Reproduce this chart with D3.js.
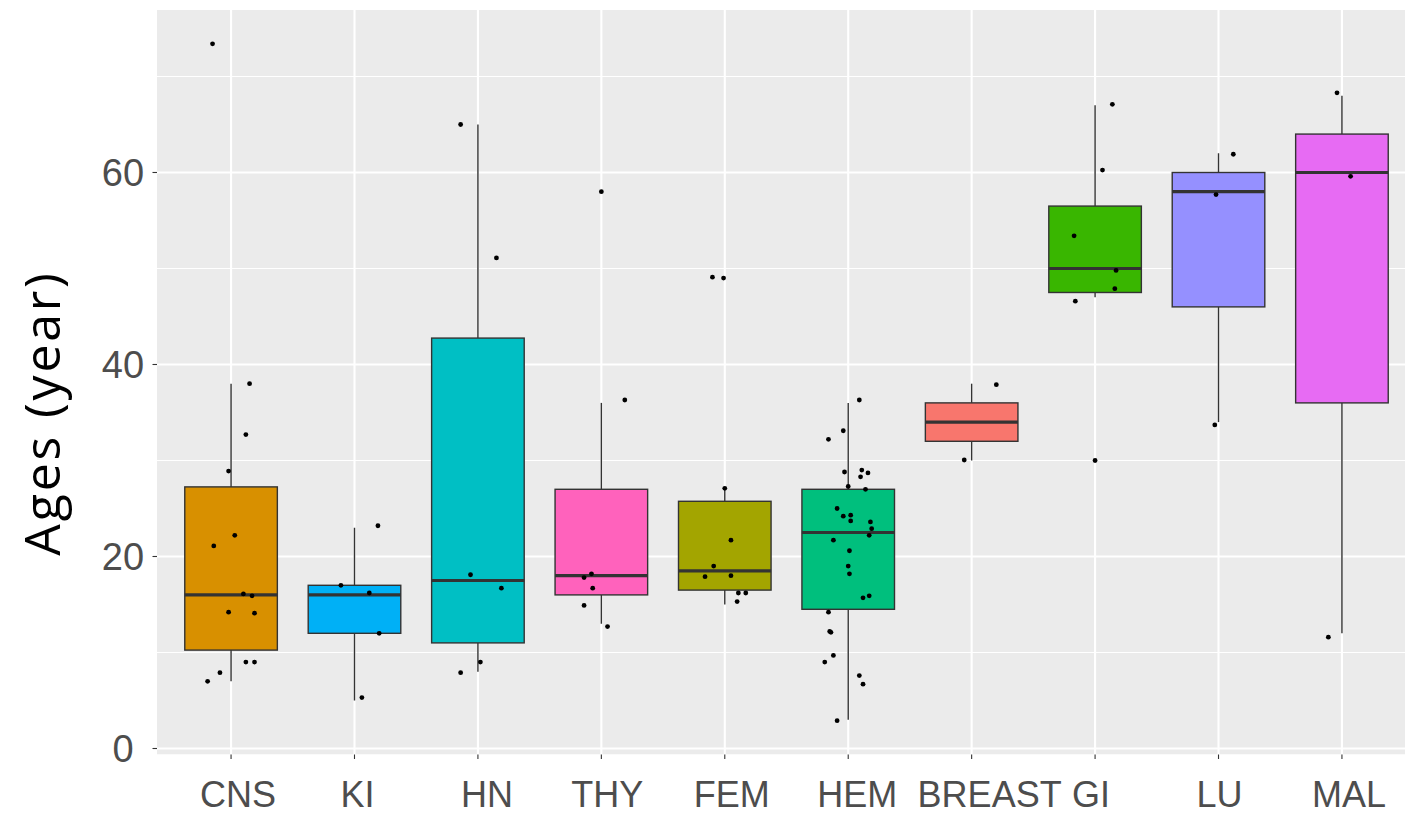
<!DOCTYPE html>
<html>
<head>
<meta charset="utf-8">
<script src="https://cdn.jsdelivr.net/npm/d3@7"></script>
<style>
  html, body { margin: 0; padding: 0; background: #ffffff; }
  svg { display: block; }
</style>
</head>
<body>
<svg id="chart" width="1405" height="815"></svg>
<script>
// Tumour groups, in plotting order
const categories = ["CNS", "KI", "HN", "THY", "FEM", "HEM", "BREAST", "GI", "LU", "MAL"];
const fills = ["#D89000", "#00B0F6", "#00BFC4", "#FF62BC", "#A3A500",
               "#00BF7D", "#F8766D", "#39B600", "#9590FF", "#E76BF3"];

// Patient ages (years) per group
const ages = [
  [73, 38, 33, 29, 22, 21, 16, 16, 14, 14, 9, 9, 8, 7],
  [23, 17, 16, 12, 5],
  [65, 51, 18, 17, 9, 8],
  [58, 36, 18, 18, 17, 15, 13],
  [49, 49, 27, 22, 19, 18, 18, 16, 16, 15],
  [36, 33, 32, 29, 29, 29, 28, 27, 27, 25, 24, 24, 24, 24, 23, 22, 22, 21, 19, 18, 16, 16, 14, 12, 12, 10, 9, 8, 7, 3],
  [38, 30],
  [67, 60, 53, 50, 48, 47, 30],
  [62, 58, 34],
  [68, 60, 12]
];

// Jitter applied to each point: horizontal (in category widths) and vertical (years)
const jitterX = [
  [-0.15, 0.15, 0.12, -0.02, 0.03, -0.14, 0.10, 0.17, -0.02, 0.19, 0.12, 0.19, -0.09, -0.19],
  [0.19, -0.11, 0.12, 0.20, 0.06],
  [-0.14, 0.15, -0.06, 0.19, 0.02, -0.14],
  [0.0, 0.19, -0.08, -0.14, -0.07, -0.14, 0.05],
  [-0.10, -0.01, 0.0, 0.05, -0.09, -0.16, 0.05, 0.11, 0.17, 0.10],
  [0.09, -0.04, -0.16, -0.03, 0.11, 0.16, 0.10, 0.0, 0.14, -0.09, -0.04, 0.02, 0.02, 0.18, 0.19, 0.17, -0.12, 0.01, 0.0, 0.01, 0.12, 0.17, -0.16, -0.15, -0.14, -0.12, -0.19, 0.09, 0.12, -0.09],
  [0.20, -0.06],
  [0.14, 0.06, -0.17, 0.17, 0.16, -0.16, 0.0],
  [0.12, -0.02, -0.03],
  [-0.04, 0.07, -0.11]
];
const jitterY = [
  [0.4, 0, -0.3, -0.1, 0.2, 0.1, 0.1, -0.1, 0.2, 0.1, 0, 0, -0.1, 0],
  [0.2, 0, 0.2, 0, 0.3],
  [0, 0.1, 0.1, -0.3, 0, -0.1],
  [0, 0.3, 0.2, -0.2, -0.3, -0.1, -0.3],
  [0.1, 0, 0.1, -0.3, 0, -0.1, 0, 0.2, 0.2, 0.3],
  [0.3, 0.1, 0.2, -0.2, 0, -0.3, 0.3, 0.3, 0, 0, 0.2, 0.3, -0.3, -0.4, -0.1, 0.2, -0.3, -0.4, 0, 0.2, -0.3, -0.1, 0.2, 0.2, 0.1, -0.3, 0, -0.4, -0.3, -0.1],
  [-0.1, 0.05],
  [0.1, 0.25, 0.4, -0.2, -0.1, -0.4, 0],
  [-0.1, -0.3, -0.3],
  [0.3, -0.4, -0.4]
];

const yTicks = [0, 20, 40, 60];
const yMinor = [10, 30, 50, 70];
const yTitle = "Ages (year)";

// horizontal nudges (px) of the category labels relative to their ticks
const labelNudge = [7, 3, 9, 6, 7, 9, 18, -4, 1, 7];

// ---- layout ----
const svg = d3.select("#chart");
const panel = { left: 157, top: 10, right: 1416, bottom: 754.5 };

const x = d3.scaleBand()
  .domain(categories)
  .range([panel.left, panel.right])
  .paddingInner(0)
  .paddingOuter(0.1);
const step = x.step();
const cx = c => x(c) + x.bandwidth() / 2;

// points as displayed (age + vertical jitter)
const points = [];
categories.forEach((c, i) => {
  ages[i].forEach((a, j) => {
    points.push({ cat: c, i, age: a, dx: jitterX[i][j], yv: a + jitterY[i][j] });
  });
});

const ext = d3.extent(points, d => d.yv);
const pad = (ext[1] - ext[0]) * 0.05;
const y = d3.scaleLinear()
  .domain([ext[0] - pad, ext[1] + pad])
  .range([panel.bottom, panel.top]);

// ---- box statistics (Tukey, 1.5 IQR whiskers; outliers shown only as jittered points) ----
const stats = categories.map((c, i) => {
  const s = ages[i].slice().sort(d3.ascending);
  const q1 = d3.quantile(s, 0.25), med = d3.quantile(s, 0.5), q3 = d3.quantile(s, 0.75);
  const iqr = q3 - q1;
  const lo = q1 - 1.5 * iqr, hi = q3 + 1.5 * iqr;
  const inside = s.filter(v => v >= lo && v <= hi);
  return { cat: c, fill: fills[i], q1, med, q3, wlo: d3.min(inside), whi: d3.max(inside) };
});

// ---- panel ----
svg.append("defs").append("clipPath").attr("id", "panelClip")
  .append("rect")
  .attr("x", panel.left).attr("y", panel.top)
  .attr("width", panel.right - panel.left).attr("height", panel.bottom - panel.top);

const g = svg.append("g").attr("clip-path", "url(#panelClip)");
g.append("rect")
  .attr("x", panel.left).attr("y", panel.top)
  .attr("width", panel.right - panel.left).attr("height", panel.bottom - panel.top)
  .attr("fill", "#EBEBEB");

g.selectAll(".minor").data(yMinor).join("line")
  .attr("x1", panel.left).attr("x2", panel.right)
  .attr("y1", d => y(d)).attr("y2", d => y(d))
  .attr("stroke", "#ffffff").attr("stroke-width", 1.1);

g.selectAll(".major").data(yTicks).join("line")
  .attr("x1", panel.left).attr("x2", panel.right)
  .attr("y1", d => y(d)).attr("y2", d => y(d))
  .attr("stroke", "#ffffff").attr("stroke-width", 2.1);

g.selectAll(".vgrid").data(categories).join("line")
  .attr("x1", d => cx(d)).attr("x2", d => cx(d))
  .attr("y1", panel.top).attr("y2", panel.bottom)
  .attr("stroke", "#ffffff").attr("stroke-width", 2.1);

// ---- boxes ----
const bw = step * 0.75;
const boxes = g.selectAll(".box").data(stats).join("g");

boxes.append("line")
  .attr("x1", d => cx(d.cat)).attr("x2", d => cx(d.cat))
  .attr("y1", d => y(d.q3)).attr("y2", d => y(d.whi))
  .attr("stroke", "#333333").attr("stroke-width", 1.4);
boxes.append("line")
  .attr("x1", d => cx(d.cat)).attr("x2", d => cx(d.cat))
  .attr("y1", d => y(d.q1)).attr("y2", d => y(d.wlo))
  .attr("stroke", "#333333").attr("stroke-width", 1.4);

boxes.append("rect")
  .attr("x", d => cx(d.cat) - bw / 2).attr("width", bw)
  .attr("y", d => y(d.q3)).attr("height", d => y(d.q1) - y(d.q3))
  .attr("fill", d => d.fill)
  .attr("stroke", "#333333").attr("stroke-width", 1.4);

boxes.append("line")
  .attr("x1", d => cx(d.cat) - bw / 2).attr("x2", d => cx(d.cat) + bw / 2)
  .attr("y1", d => y(d.med)).attr("y2", d => y(d.med))
  .attr("stroke", "#333333").attr("stroke-width", 3.2);

// ---- jittered points ----
g.selectAll(".pt").data(points).join("circle")
  .attr("cx", d => cx(d.cat) + d.dx * step)
  .attr("cy", d => y(d.yv))
  .attr("r", 2.4)
  .attr("fill", "#000000");

// ---- axes ----
const yAxis = svg.append("g");
yAxis.selectAll("line").data(yTicks).join("line")
  .attr("x1", panel.left - 4.5).attr("x2", panel.left)
  .attr("y1", d => y(d)).attr("y2", d => y(d))
  .attr("stroke", "#333333").attr("stroke-width", 1.1);
yAxis.selectAll("text").data(yTicks).join("text")
  .attr("x", 123).attr("y", d => y(d))
  .attr("dy", "0.36em")
  .attr("text-anchor", "middle")
  .attr("font-family", "'Liberation Sans', Arial, sans-serif")
  .attr("font-size", 38)
  .attr("fill", "#4D4D4D")
  .text(d => d);

const xAxis = svg.append("g");
xAxis.selectAll("line").data(categories).join("line")
  .attr("x1", d => cx(d)).attr("x2", d => cx(d))
  .attr("y1", panel.bottom).attr("y2", panel.bottom + 4.5)
  .attr("stroke", "#333333").attr("stroke-width", 1.1);
xAxis.selectAll("text").data(categories).join("text")
  .attr("x", (d, i) => cx(d) + labelNudge[i]).attr("y", 807)
  .attr("text-anchor", "middle")
  .attr("font-family", "'Liberation Sans', Arial, sans-serif")
  .attr("font-size", 36)
  .attr("fill", "#4D4D4D")
  .text(d => d);

svg.append("text")
  .attr("transform", "translate(60,413) rotate(-90)")
  .attr("text-anchor", "middle")
  .attr("font-family", "'Open Sans', 'Noto Sans', sans-serif")
  .attr("font-size", 50)
  .attr("letter-spacing", 2.8)
  .attr("fill", "#000000")
  .text(yTitle);
</script>
</body>
</html>
